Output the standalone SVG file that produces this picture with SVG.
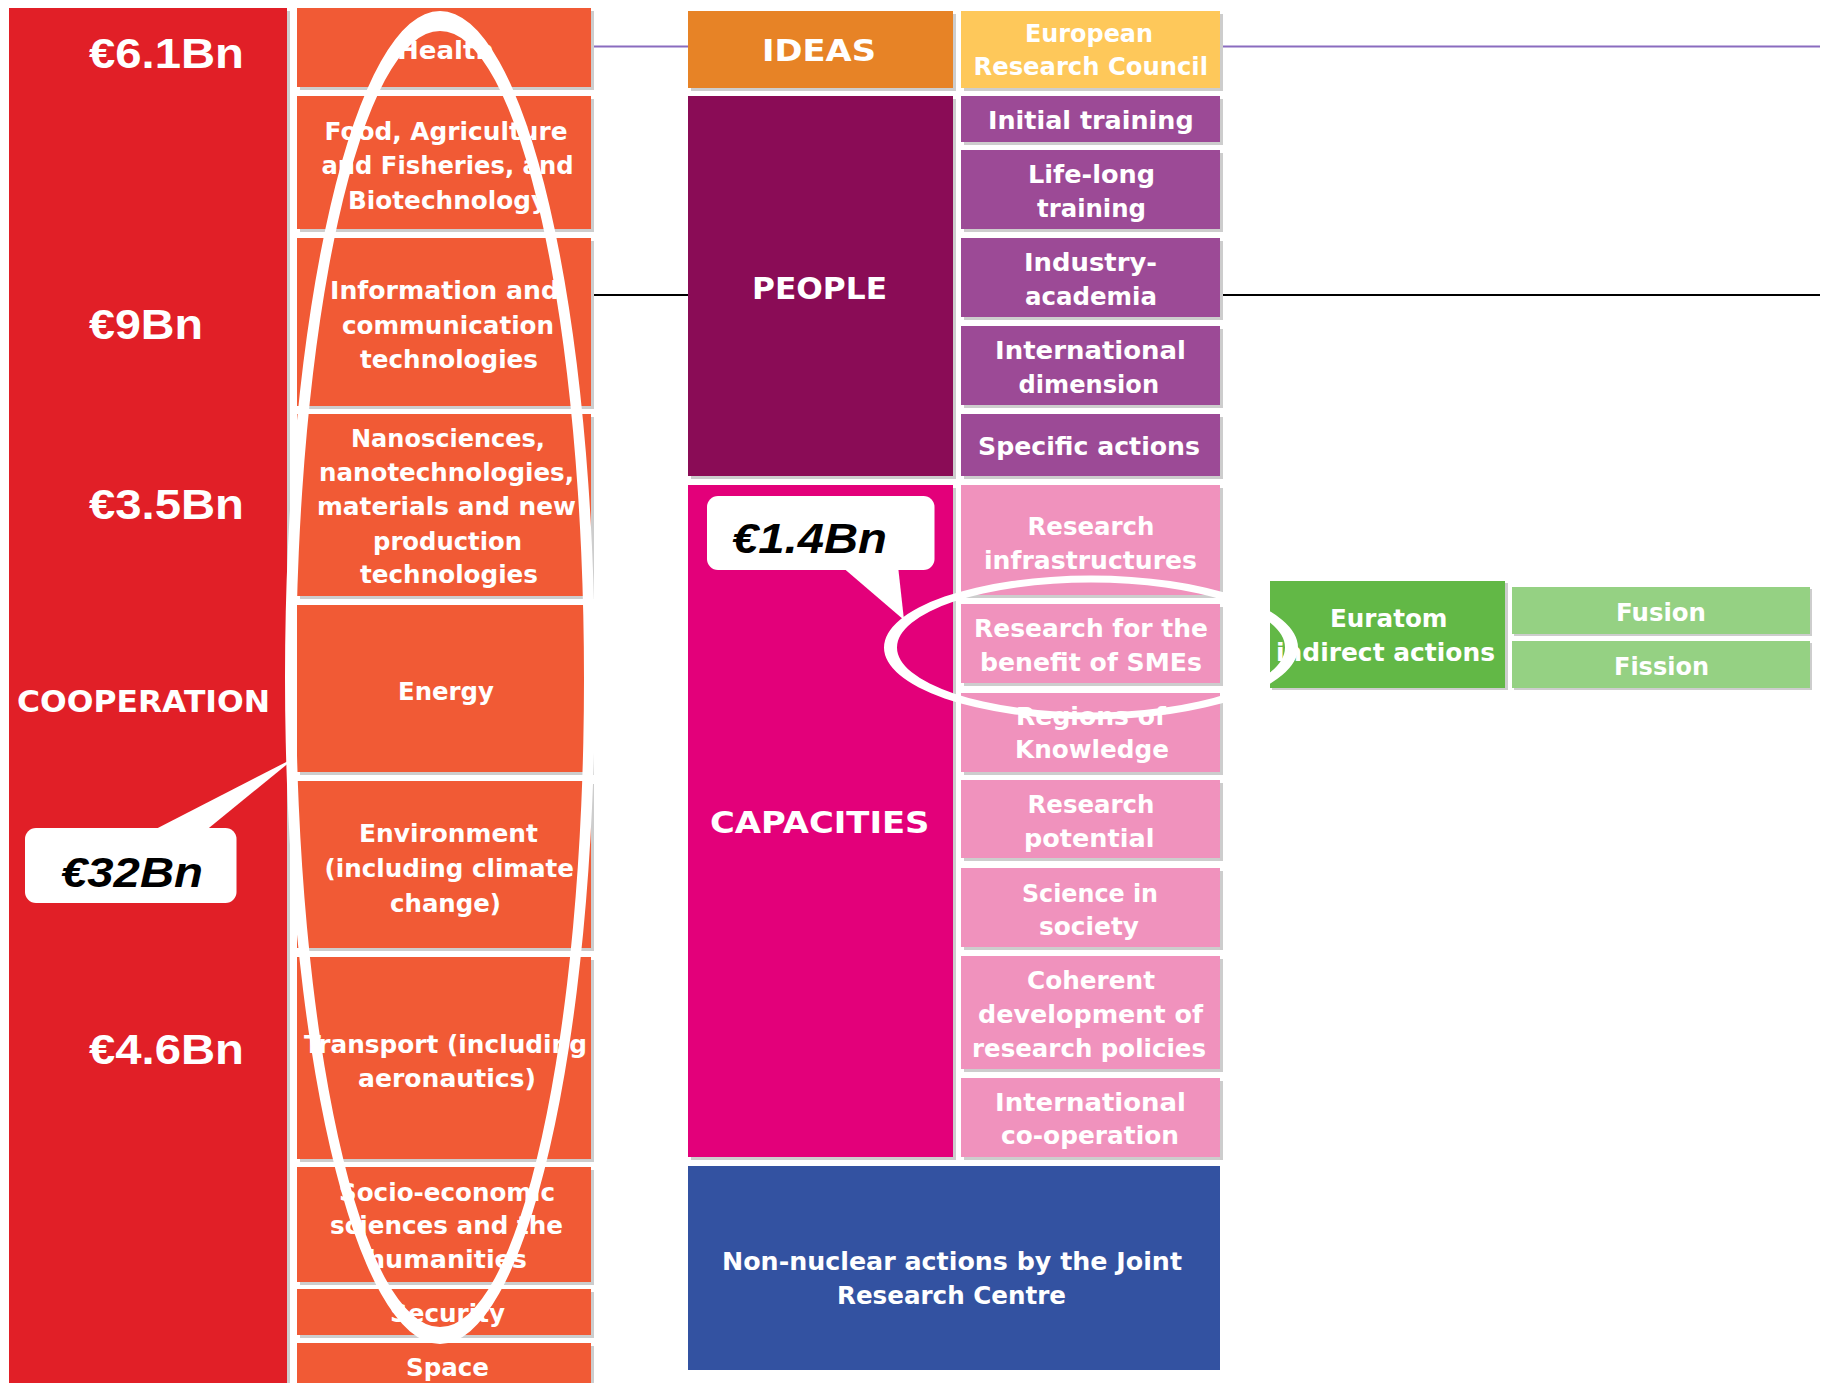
<svg xmlns="http://www.w3.org/2000/svg" width="1826" height="1383" viewBox="0 0 1826 1383">
<style>
.sh{fill:#cdcdcd}
.red{fill:#e11f27}
.or{fill:#f15a35}
.ideas{fill:#e78326}
.erc{fill:#fec85a}
.ppl{fill:#8a0c56}
.pplsub{fill:#9c4a96}
.cap{fill:#e3007a}
.capsub{fill:#f092bd}
.jrc{fill:#3352a1}
.eur{fill:#62b846}
.eursub{fill:#95d183}
text{font-family:"DejaVu Sans",Verdana,sans-serif;font-weight:bold;font-size:25px;fill:#fff}
.big{font-size:30px}
.amt{font-family:"Liberation Sans",Arial,sans-serif;font-weight:bold;font-size:42px;fill:#fff}
.call{font-family:"Liberation Sans",Arial,sans-serif;font-weight:bold;font-style:italic;font-size:42px;fill:#000}
.ring{fill:#fff;fill-rule:evenodd}
.bub{fill:#fff}
.rule{fill:none;stroke-width:2}
</style>
<rect width="1826" height="1383" fill="#fff"/>

<g id="connectors">
<path class="rule" stroke="#8a6cbf" d="M591,46.5H688M1220,46.5H1820"/>
<path class="rule" stroke="#000" d="M591,295H688M1220,295H1820"/>
</g>

<g id="cooperation">
<rect class="sh" x="12" y="11" width="278" height="1372"/>
<rect class="red" x="9" y="8" width="278" height="1375"/>
<text class="big" x="17" y="712" textLength="253" lengthAdjust="spacingAndGlyphs">COOPERATION</text>
<text class="amt" x="89" y="68" textLength="155" lengthAdjust="spacingAndGlyphs">€6.1Bn</text>
<text class="amt" x="89" y="339" textLength="114" lengthAdjust="spacingAndGlyphs">€9Bn</text>
<text class="amt" x="89" y="519" textLength="155" lengthAdjust="spacingAndGlyphs">€3.5Bn</text>
<text class="amt" x="89" y="1064" textLength="155" lengthAdjust="spacingAndGlyphs">€4.6Bn</text>
</g>

<g id="health"><rect class="sh" x="300" y="11" width="294" height="79"/><rect class="or" x="297" y="8" width="294" height="79"/>
<text x="397" y="59" textLength="97" lengthAdjust="spacingAndGlyphs">Health</text></g>
<g id="food"><rect class="sh" x="300" y="99" width="294" height="133"/><rect class="or" x="297" y="96" width="294" height="133"/>
<text x="324.5" y="140" textLength="243" lengthAdjust="spacingAndGlyphs">Food, Agriculture</text>
<text x="321.5" y="174" textLength="252" lengthAdjust="spacingAndGlyphs">and Fisheries, and</text>
<text x="348" y="209" textLength="199" lengthAdjust="spacingAndGlyphs">Biotechnology</text></g>
<g id="ict"><rect class="sh" x="300" y="241" width="294" height="168"/><rect class="or" x="297" y="238" width="294" height="168"/>
<text x="330" y="299" textLength="229" lengthAdjust="spacingAndGlyphs">Information and</text>
<text x="342" y="334" textLength="212" lengthAdjust="spacingAndGlyphs">communication</text>
<text x="360" y="368" textLength="178" lengthAdjust="spacingAndGlyphs">technologies</text></g>
<g id="nano"><rect class="sh" x="300" y="417" width="294" height="182"/><rect class="or" x="297" y="414" width="294" height="182"/>
<text x="351" y="447" textLength="194" lengthAdjust="spacingAndGlyphs">Nanosciences,</text>
<text x="319" y="481" textLength="255" lengthAdjust="spacingAndGlyphs">nanotechnologies,</text>
<text x="317" y="515" textLength="259" lengthAdjust="spacingAndGlyphs">materials and new</text>
<text x="373" y="550" textLength="149" lengthAdjust="spacingAndGlyphs">production</text>
<text x="360" y="583" textLength="178" lengthAdjust="spacingAndGlyphs">technologies</text></g>
<g id="energy"><rect class="sh" x="300" y="608" width="294" height="167"/><rect class="or" x="297" y="605" width="294" height="167"/>
<text x="398" y="700" textLength="96" lengthAdjust="spacingAndGlyphs">Energy</text></g>
<g id="environment"><rect class="sh" x="300" y="784" width="294" height="167"/><rect class="or" x="297" y="781" width="294" height="167"/>
<text x="359" y="842" textLength="179" lengthAdjust="spacingAndGlyphs">Environment</text>
<text x="324.5" y="877" textLength="249.5" lengthAdjust="spacingAndGlyphs">(including climate</text>
<text x="390" y="912" textLength="111" lengthAdjust="spacingAndGlyphs">change)</text></g>
<g id="transport"><rect class="sh" x="300" y="960" width="294" height="202"/><rect class="or" x="297" y="957" width="294" height="202"/>
<text x="304" y="1053" textLength="283" lengthAdjust="spacingAndGlyphs">Transport (including</text>
<text x="358" y="1087" textLength="178" lengthAdjust="spacingAndGlyphs">aeronautics)</text></g>
<g id="socio"><rect class="sh" x="300" y="1170" width="294" height="115"/><rect class="or" x="297" y="1167" width="294" height="115"/>
<text x="339" y="1201" textLength="216" lengthAdjust="spacingAndGlyphs">Socio-economic</text>
<text x="330" y="1234" textLength="233" lengthAdjust="spacingAndGlyphs">sciences and the</text>
<text x="367" y="1268" textLength="160" lengthAdjust="spacingAndGlyphs">humanities</text></g>
<g id="security"><rect class="sh" x="300" y="1292" width="294" height="46"/><rect class="or" x="297" y="1289" width="294" height="46"/>
<text x="390" y="1322" textLength="115" lengthAdjust="spacingAndGlyphs">Security</text></g>
<g id="space"><rect class="sh" x="300" y="1346" width="294" height="37"/><rect class="or" x="297" y="1343" width="294" height="40"/>
<text x="406" y="1376" textLength="83" lengthAdjust="spacingAndGlyphs">Space</text></g>

<g id="ideas"><rect class="sh" x="691" y="14" width="265" height="77"/><rect class="ideas" x="688" y="11" width="265" height="77"/>
<text class="big" x="762" y="61" textLength="114" lengthAdjust="spacingAndGlyphs">IDEAS</text></g>
<g id="erc"><rect class="sh" x="964" y="14" width="259" height="77"/><rect class="erc" x="961" y="11" width="259" height="77"/>
<text x="1025" y="42" textLength="128" lengthAdjust="spacingAndGlyphs">European</text>
<text x="973.5" y="75" textLength="234.5" lengthAdjust="spacingAndGlyphs">Research Council</text></g>

<g id="people"><rect class="sh" x="691" y="99" width="265" height="380"/><rect class="ppl" x="688" y="96" width="265" height="380"/>
<text class="big" x="752" y="299" font-size="29" textLength="135" lengthAdjust="spacingAndGlyphs">PEOPLE</text></g>
<g id="initial"><rect class="sh" x="964" y="99" width="259" height="46"/><rect class="pplsub" x="961" y="96" width="259" height="46"/>
<text x="988" y="129" textLength="205.6" lengthAdjust="spacingAndGlyphs">Initial training</text></g>
<g id="lifelong"><rect class="sh" x="964" y="153" width="259" height="79"/><rect class="pplsub" x="961" y="150" width="259" height="79"/>
<text x="1028" y="183" textLength="127" lengthAdjust="spacingAndGlyphs">Life-long</text>
<text x="1037" y="217" textLength="109" lengthAdjust="spacingAndGlyphs">training</text></g>
<g id="industry"><rect class="sh" x="964" y="241" width="259" height="79"/><rect class="pplsub" x="961" y="238" width="259" height="79"/>
<text x="1024" y="271" textLength="133" lengthAdjust="spacingAndGlyphs">Industry-</text>
<text x="1025" y="305" textLength="132" lengthAdjust="spacingAndGlyphs">academia</text></g>
<g id="intdim"><rect class="sh" x="964" y="329" width="259" height="79"/><rect class="pplsub" x="961" y="326" width="259" height="79"/>
<text x="995" y="359" textLength="191" lengthAdjust="spacingAndGlyphs">International</text>
<text x="1018.6" y="393" textLength="140.5" lengthAdjust="spacingAndGlyphs">dimension</text></g>
<g id="specific"><rect class="sh" x="964" y="417" width="259" height="62"/><rect class="pplsub" x="961" y="414" width="259" height="62"/>
<text x="978" y="455" textLength="222" lengthAdjust="spacingAndGlyphs">Specific actions</text></g>

<g id="capacities"><rect class="sh" x="691" y="488" width="265" height="672"/><rect class="cap" x="688" y="485" width="265" height="672"/>
<text class="big" x="710" y="833" font-size="29" textLength="219.5" lengthAdjust="spacingAndGlyphs">CAPACITIES</text></g>
<g id="infra"><rect class="sh" x="964" y="488" width="259" height="110"/><rect class="capsub" x="961" y="485" width="259" height="110"/>
<text x="1027.5" y="535" textLength="127" lengthAdjust="spacingAndGlyphs">Research</text>
<text x="984" y="569" textLength="213" lengthAdjust="spacingAndGlyphs">infrastructures</text></g>
<g id="smes"><rect class="sh" x="964" y="607" width="259" height="79"/><rect class="capsub" x="961" y="604" width="259" height="79"/>
<text x="974" y="637" textLength="234" lengthAdjust="spacingAndGlyphs">Research for the</text>
<text x="980" y="671" textLength="222" lengthAdjust="spacingAndGlyphs">benefit of SMEs</text></g>
<g id="regions"><rect class="sh" x="964" y="696" width="259" height="79"/><rect class="capsub" x="961" y="693" width="259" height="79"/>
<text x="1016" y="725" textLength="150" lengthAdjust="spacingAndGlyphs">Regions of</text>
<text x="1015" y="758" textLength="154" lengthAdjust="spacingAndGlyphs">Knowledge</text></g>
<g id="potential"><rect class="sh" x="964" y="783" width="259" height="78"/><rect class="capsub" x="961" y="780" width="259" height="78"/>
<text x="1027.5" y="813" textLength="127" lengthAdjust="spacingAndGlyphs">Research</text>
<text x="1024" y="847" textLength="130.5" lengthAdjust="spacingAndGlyphs">potential</text></g>
<g id="society"><rect class="sh" x="964" y="871" width="259" height="79"/><rect class="capsub" x="961" y="868" width="259" height="79"/>
<text x="1022" y="902" textLength="136" lengthAdjust="spacingAndGlyphs">Science in</text>
<text x="1039" y="935" textLength="100" lengthAdjust="spacingAndGlyphs">society</text></g>
<g id="coherent"><rect class="sh" x="964" y="959" width="259" height="113"/><rect class="capsub" x="961" y="956" width="259" height="113"/>
<text x="1027" y="989" textLength="128" lengthAdjust="spacingAndGlyphs">Coherent</text>
<text x="978" y="1023" textLength="225" lengthAdjust="spacingAndGlyphs">development of</text>
<text x="972" y="1057" textLength="234" lengthAdjust="spacingAndGlyphs">research policies</text></g>
<g id="intcoop"><rect class="sh" x="964" y="1081" width="259" height="79"/><rect class="capsub" x="961" y="1078" width="259" height="79"/>
<text x="995" y="1111" textLength="191" lengthAdjust="spacingAndGlyphs">International</text>
<text x="1001" y="1144" textLength="178" lengthAdjust="spacingAndGlyphs">co-operation</text></g>

<g id="jrc"><rect class="jrc" x="688" y="1166" width="532" height="204"/>
<text x="722" y="1270" textLength="460" lengthAdjust="spacingAndGlyphs">Non-nuclear actions by the Joint</text>
<text x="837" y="1304" textLength="229" lengthAdjust="spacingAndGlyphs">Research Centre</text></g>

<g id="euratom"><rect class="sh" x="1272" y="583" width="236" height="107"/><rect class="eur" x="1270" y="581" width="235" height="107"/>
<text x="1330" y="627" textLength="117.5" lengthAdjust="spacingAndGlyphs">Euratom</text>
<text x="1276" y="661" textLength="219" lengthAdjust="spacingAndGlyphs">indirect actions</text></g>
<g id="fusion"><rect class="sh" x="1514" y="589" width="298" height="47"/><rect class="eursub" x="1512" y="587" width="298" height="47"/>
<text x="1616" y="621" textLength="90" lengthAdjust="spacingAndGlyphs">Fusion</text></g>
<g id="fission"><rect class="sh" x="1514" y="643" width="298" height="47"/><rect class="eursub" x="1512" y="641" width="298" height="47"/>
<text x="1614" y="675" textLength="95" lengthAdjust="spacingAndGlyphs">Fission</text></g>

<g id="highlight-cooperation">
<path class="ring" d="M285,677.5a155,666.5 0 1,0 310,0a155,666.5 0 1,0 -310,0ZM296,679a144,648 0 1,0 288,0a144,648 0 1,0 -288,0Z"/>
</g>
<g id="highlight-smes">
<path class="ring" d="M884,647.5a207,72 0 1,0 414,0a207,72 0 1,0 -414,0ZM897,647.5a194,65 0 1,0 388,0a194,65 0 1,0 -388,0Z"/>
</g>

<g id="callout-32bn">
<polygon class="bub" points="150,832 296,757 204,832"/>
<rect class="bub" x="25" y="828" width="211.5" height="75" rx="11"/>
<text class="call" x="61" y="887" textLength="142" lengthAdjust="spacingAndGlyphs">€32Bn</text>
</g>
<g id="callout-1-4bn">
<polygon class="bub" points="841,566 904,620 898,566"/>
<rect class="bub" x="707" y="496" width="227.5" height="74" rx="11"/>
<text class="call" x="732" y="553" textLength="155" lengthAdjust="spacingAndGlyphs">€1.4Bn</text>
</g>
</svg>
